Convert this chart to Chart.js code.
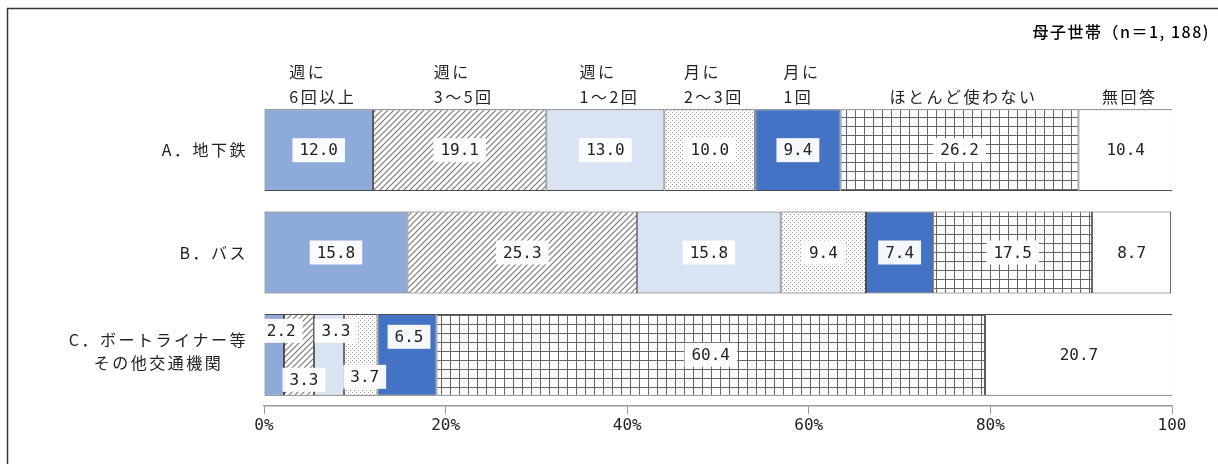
<!DOCTYPE html>
<html>
<head>
<meta charset="utf-8">
<script src="https://cdn.jsdelivr.net/npm/chart.js@4"></script>
<style>
  html, body { margin: 0; padding: 0; background: #fff; }
  #chart { display: block; }
</style>
</head>
<body>
<canvas id="chart" width="1218" height="464"></canvas>
<script>
const categories = [["A．地下鉄"], ["B．バス"], ["C．ボートライナー等", "その他交通機関"]];
const seriesNames = [["週に", "6回以上"], ["週に", "3～5回"], ["週に", "1～2回"], ["月に", "2～3回"], ["月に", "1回"], ["ほとんど使わない"], ["無回答"]];
const weekly6 = [12.0, 15.8, 2.2];
const weekly3to5 = [19.1, 25.3, 3.3];
const weekly1to2 = [13.0, 15.8, 3.3];
const monthly2to3 = [10.0, 9.4, 3.7];
const monthly1 = [9.4, 7.4, 6.5];
const rarely = [26.2, 17.5, 60.4];
const noAnswer = [10.4, 8.7, 20.7];
const xTicks = [0, 20, 40, 60, 80, 100];
const note = "母子世帯（n＝1, 188)";

const CJK = '"Noto Sans CJK JP", "Noto Sans", sans-serif';
const MONO = '"DejaVu Sans Mono", "Liberation Mono", monospace';

function makePattern(size, draw) {
  const c = document.createElement("canvas");
  c.width = size; c.height = size;
  const g = c.getContext("2d");
  g.fillStyle = "#fff";
  g.fillRect(0, 0, size, size);
  draw(g, size);
  return document.getElementById("chart").getContext("2d").createPattern(c, "repeat");
}

const hatch = makePattern(6, (g, s) => {
  g.strokeStyle = "#7a7a7a";
  g.lineWidth = 1.2;
  g.beginPath();
  g.moveTo(0, s); g.lineTo(s, 0);
  g.moveTo(-1, 1); g.lineTo(1, -1);
  g.moveTo(s - 1, s + 1); g.lineTo(s + 1, s - 1);
  g.stroke();
});
const dots = makePattern(4, (g) => {
  g.fillStyle = "#999";
  g.fillRect(0, 0, 1, 1);
  g.fillRect(2, 2, 1, 1);
});
const grid = makePattern(9, (g, s) => {
  g.fillStyle = "#666";
  g.fillRect(0, 0, s, 1);
  g.fillRect(0, 0, 1, s);
});

const fills = ["#8eaadb", hatch, "#dae3f3", dots, "#4472c4", grid, "#ffffff"];
const values = [weekly6, weekly3to5, weekly1to2, monthly2to3, monthly1, rarely, noAnswer];

// nudges for the crowded labels on row C: [dx, dy]
const labelNudge = { "0-2": [7, -24], "1-2": [5, 25], "2-2": [7, -24], "3-2": [4, 22], "4-2": [2, -18] };

const frame = {
  id: "frame",
  beforeDraw(chart) {
    const ctx = chart.ctx;
    ctx.save();
    ctx.strokeStyle = "#333";
    ctx.lineWidth = 1.5;
    ctx.beginPath();
    ctx.moveTo(7.5, 464);
    ctx.lineTo(7.5, 8.5);
    ctx.lineTo(1218, 8.5);
    ctx.stroke();
    ctx.fillStyle = "#000";
    ctx.font = "500 16px " + CJK;
    ctx.letterSpacing = "1.5px";
    ctx.textAlign = "right";
    ctx.textBaseline = "middle";
    ctx.fillText(note, 1210, 32);
    ctx.restore();
  }
};

const labels = {
  id: "labels",
  afterDatasetsDraw(chart) {
    const ctx = chart.ctx;
    const yScale = chart.scales.y;
    ctx.save();
    ctx.textBaseline = "middle";

    // category labels on the left
    ctx.font = "16px " + CJK;
    ctx.letterSpacing = "2.5px";
    ctx.fillStyle = "#222";
    ctx.textAlign = "center";
    categories.forEach((lines, i) => {
      const yc = yScale.getPixelForValue(i);
      const w = Math.max(...lines.map(l => ctx.measureText(l).width));
      const cx = chart.chartArea.left - 16 - w / 2;
      lines.forEach((l, k) => {
        ctx.fillText(l, cx, yc + (k - (lines.length - 1) / 2) * 23 - 3 * (lines.length - 1));
      });
    });

    // series headers above row A
    ctx.textAlign = "left";
    chart.data.datasets.forEach((ds, i) => {
      const el = chart.getDatasetMeta(i).data[0];
      const cx = (el.x + el.base) / 2 + 4;
      const lines = seriesNames[i];
      const w = Math.max(...lines.map(l => ctx.measureText(l).width));
      lines.forEach((l, k) => {
        const y = 97 - (lines.length - 1 - k) * 25;
        ctx.fillText(l, cx - w / 2, y);
      });
    });

    // value labels
    ctx.letterSpacing = "0px";
    ctx.font = "16px " + MONO;
    ctx.textAlign = "center";
    chart.data.datasets.forEach((ds, i) => {
      chart.getDatasetMeta(i).data.forEach((el, j) => {
        const nudge = labelNudge[i + "-" + j] || [0, 0];
        const x = (el.x + el.base) / 2 + nudge[0];
        const y = el.y + nudge[1];
        const txt = ds.data[j].toFixed(1);
        const w = ctx.measureText(txt).width;
        ctx.fillStyle = "rgba(255,255,255,0.95)";
        ctx.fillRect(x - w / 2 - 7, y - 12, w + 14, 24);
        ctx.fillStyle = "#222";
        ctx.fillText(txt, x, y + 1);
      });
    });
    ctx.restore();
  }
};

new Chart(document.getElementById("chart"), {
  type: "bar",
  data: {
    labels: categories,
    datasets: values.map((v, i) => ({
      label: seriesNames[i].join(""),
      data: v,
      backgroundColor: fills[i],
      borderColor: "#4d4d4d",
      borderWidth: 1,
      borderSkipped: false,
      barPercentage: 0.8,
      categoryPercentage: 1
    }))
  },
  options: {
    indexAxis: "y",
    responsive: false,
    animation: false,
    devicePixelRatio: 1,
    layout: { padding: { left: 264, right: 46, top: 99, bottom: 0 } },
    plugins: { legend: { display: false }, tooltip: { enabled: false } },
    scales: {
      x: {
        stacked: true,
        min: 0,
        max: 100,
        afterFit(s) { s.height = 58; },
        afterBuildTicks(s) { s.ticks = xTicks.map(v => ({ value: v })); },
        grid: { drawOnChartArea: false, drawTicks: true, tickLength: 8, color: "#999" },
        border: { display: true, color: "#999", width: 1.5 },
        ticks: {
          color: "#222",
          font: { family: MONO, size: 16 },
          padding: 2,
          maxRotation: 0,
          callback: v => v === 100 ? "100" : v + "%"
        }
      },
      y: {
        stacked: true,
        display: false
      }
    }
  },
  plugins: [frame, labels]
});
</script>
</body>
</html>
